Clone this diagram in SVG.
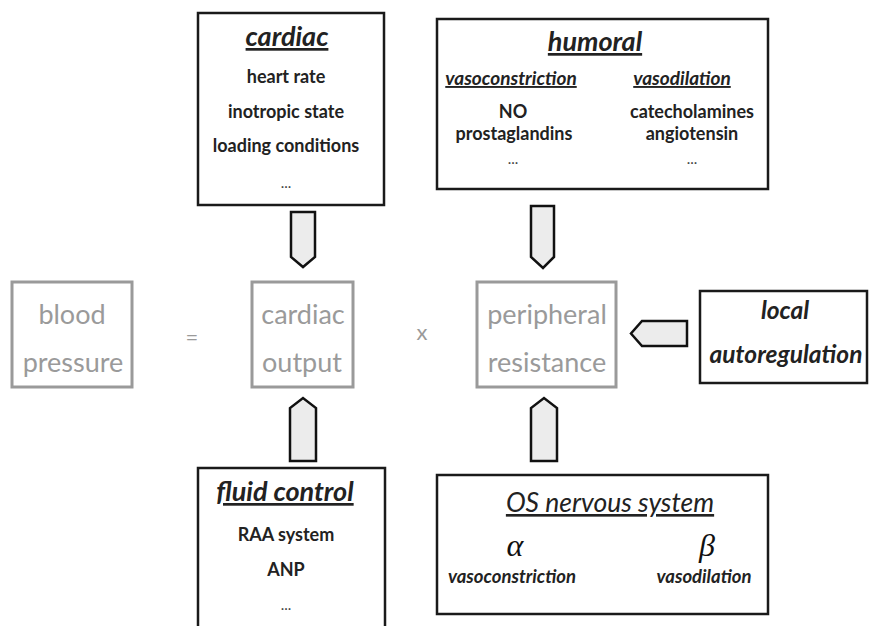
<svg xmlns="http://www.w3.org/2000/svg" width="869" height="626" viewBox="0 0 869 626">
<style>
.box{fill:#fff;stroke:#1a1a1a;stroke-width:2.5}
.gbox{fill:#fff;stroke:#9a9a9a;stroke-width:3}
.arr{fill:#ececec;stroke:#111;stroke-width:2.5;stroke-linejoin:miter}
text{font-family:Lato,"Liberation Sans",sans-serif;text-anchor:middle;fill:#222}
.h{font-weight:bold;font-style:italic;font-size:27px;text-decoration:underline}
.b{font-weight:bold;font-size:18px}
.sub{font-weight:bold;font-style:italic;font-size:19px;text-decoration:underline}
.g{fill:#9a9a9a;font-size:27px}
.it{font-style:italic;font-weight:bold;font-size:24.5px}
.sm{font-style:italic;font-weight:bold;font-size:18.5px}
.greek{font-family:"Liberation Serif","DejaVu Serif",serif;font-style:italic;font-size:32px;fill:#111}
.dots{font-size:15px;fill:#444}
</style>
<rect width="869" height="626" fill="#fff"/>
<g id="connectors">
<polygon class="arr" points="291,212 315,212 315,257 303,267 291,257"/>
<polygon class="arr" points="531,206 554,206 554,257 543,268 531,257"/>
<polygon class="arr" points="290,461 316,461 316,408 303,398 290,408"/>
<polygon class="arr" points="531,461 557,461 557,408 544,398 531,408"/>
<polygon class="arr" points="687,321 687,346 642,346 631,333.5 642,321"/>
</g>
<g id="cardiac">
<rect class="box" x="198" y="13" width="186" height="192"/>
<text class="h" x="287" y="46">cardiac</text>
<text class="b" x="286" y="83">heart rate</text>
<text class="b" x="286" y="118">inotropic state</text>
<text class="b" x="286" y="152">loading conditions</text>
<text class="dots" x="286" y="188">...</text>
</g>
<g id="humoral">
<rect class="box" x="437" y="19" width="331" height="170"/>
<text class="h" x="595" y="51">humoral</text>
<text class="sub" x="511" y="85">vasoconstriction</text>
<text class="sub" x="682" y="85">vasodilation</text>
<text class="b" x="513" y="118">NO</text>
<text class="b" x="514" y="140">prostaglandins</text>
<text class="dots" x="513" y="164">...</text>
<text class="b" x="692" y="118">catecholamines</text>
<text class="b" x="692" y="140">angiotensin</text>
<text class="dots" x="692" y="164">...</text>
</g>
<g id="blood-pressure">
<rect class="gbox" x="12" y="282" width="120" height="105"/>
<text class="g" x="72" y="324">blood</text>
<text class="g" x="73" y="372">pressure</text>
</g>
<text class="g" x="192" y="345" style="font-size:22px">=</text>
<text class="g" x="422" y="340" style="font-size:22px">x</text>
<g id="cardiac-output">
<rect class="gbox" x="252" y="282" width="101" height="105"/>
<text class="g" x="303" y="324">cardiac</text>
<text class="g" x="302" y="372">output</text>
</g>
<g id="peripheral-resistance">
<rect class="gbox" x="477" y="282" width="139" height="105"/>
<text class="g" x="547" y="324">peripheral</text>
<text class="g" x="547" y="372">resistance</text>
</g>
<g id="local-autoregulation">
<rect class="box" x="700" y="291" width="167" height="92"/>
<text class="it" x="785" y="319">local</text>
<text class="it" x="786" y="363">autoregulation</text>
</g>
<g id="fluid-control">
<rect class="box" x="198" y="468" width="187" height="170"/>
<text class="h" x="285" y="501">fluid control</text>
<text class="b" x="286" y="541">RAA system</text>
<text class="b" x="286" y="576">ANP</text>
<text class="dots" x="286" y="610">...</text>
</g>
<g id="os-nervous-system">
<rect class="box" x="437" y="475" width="331" height="139"/>
<text class="h" x="610" y="512" style="font-weight:normal;font-size:26.5px">OS nervous system</text>
<text class="greek" x="515" y="556">α</text>
<text class="sm" x="512" y="583">vasoconstriction</text>
<text class="greek" x="707" y="556">β</text>
<text class="sm" x="704" y="583">vasodilation</text>
</g>
</svg>
